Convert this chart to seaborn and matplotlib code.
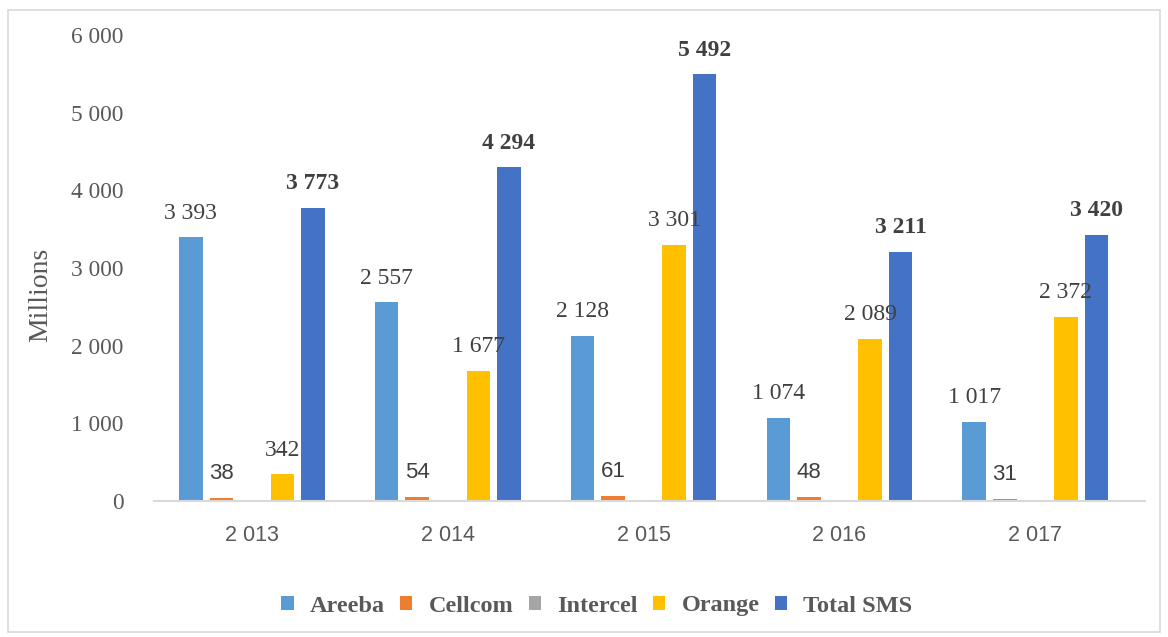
import matplotlib
matplotlib.use("Agg")
import matplotlib.pyplot as plt
import matplotlib.patches as mpatches
import seaborn as sns
import pandas as pd

years = ["2 013", "2 014", "2 015", "2 016", "2 017"]
operators = ["Areeba", "Cellcom", "Intercel", "Orange", "Total SMS"]
areeba = [3393, 2557, 2128, 1074, 1017]
cellcom = [38, 54, 61, 48, 31]
intercel = [0, 0, 0, 0, 0]
orange = [342, 1677, 3301, 2089, 2372]
total_sms = [3773, 4294, 5492, 3211, 3420]
yticks = [0, 1000, 2000, 3000, 4000, 5000, 6000]

colors = ["#5B9BD5", "#ED7D31", "#A5A5A5", "#FFC000", "#4472C4"]

series = [areeba, cellcom, intercel, orange, total_sms]
rows = []
for op, vals in zip(operators, series):
    for y, v in zip(years, vals):
        rows.append({"year": y, "operator": op, "value": v})
df = pd.DataFrame(rows)

sns.set_style("white")
plt.rcParams["font.family"] = ["Liberation Serif", "DejaVu Sans"]

fig = plt.figure(figsize=(11.68, 6.37), dpi=100)
W, H = 1168, 637
ax = fig.add_axes([154 / W, (H - 501) / H, (1145 - 154) / W, (501 - 35) / H])

sns.barplot(data=df, x="year", y="value", hue="operator", hue_order=operators,
            palette=colors, saturation=1, width=0.78, gap=0.23,
            linewidth=0, ax=ax, legend=True)

ax.set_xlim(-0.5, 4.56)
ax.set_ylim(0, 6000)
ax.set_yticks(yticks)
ax.set_yticklabels([f"{t:,}".replace(",", " ") for t in yticks],
                   fontsize=16.8, color="#595959", family="Liberation Serif")
ax.tick_params(axis="y", length=0, pad=22)
ax.tick_params(axis="x", length=0, pad=17.5)
for lbl in ax.get_xticklabels():
    lbl.set_fontfamily("Liberation Sans")
    lbl.set_fontsize(15.5)
    lbl.set_color("#595959")
ax.set_xlabel("")
ax.set_ylabel("Millions", fontsize=20, color="#595959", family="Liberation Serif")
ax.yaxis.set_label_coords((53 - 154) / 991, (501 - 295) / 466)

for s in ["top", "right", "left"]:
    ax.spines[s].set_visible(False)
ax.spines["bottom"].set_color("#D9D9D9")
ax.spines["bottom"].set_linewidth(1.5)

def fmt(v):
    return f"{v:,}".replace(",", " ")

for op, cont, vals in zip(operators, ax.containers, series):
    labels = [fmt(v) if v > 0 else "" for v in vals]
    if op == "Total SMS":
        ax.bar_label(cont, labels=labels, padding=10, fontsize=17, fontweight="bold",
                     color="#404040", family="Liberation Serif")
    elif op == "Cellcom":
        ax.bar_label(cont, labels=labels, padding=10, fontsize=16,
                     color="#404040", family="Liberation Sans")
    else:
        ax.bar_label(cont, labels=labels, padding=10, fontsize=17,
                     color="#404040", family="Liberation Serif")

leg = ax.get_legend()
handles = leg.legend_handles
leg.remove()
fig.legend(handles, operators, loc="center", bbox_to_anchor=(597 / W, (H - 606) / H),
           ncol=5, frameon=False, handlelength=0.5, handleheight=0.5,
           handletextpad=0.68, columnspacing=0.62,
           prop={"family": "Liberation Serif", "weight": "bold", "size": 17.5})
for t in fig.legends[0].get_texts():
    t.set_color("#595959")

fig.patches.append(mpatches.Rectangle((8 / W, 5 / H), (1160 - 8) / W, (627 - 5) / H,
                                      transform=fig.transFigure, fill=False,
                                      edgecolor="#D9D9D9", linewidth=1.2))

fig.savefig("out.png", dpi=100)
